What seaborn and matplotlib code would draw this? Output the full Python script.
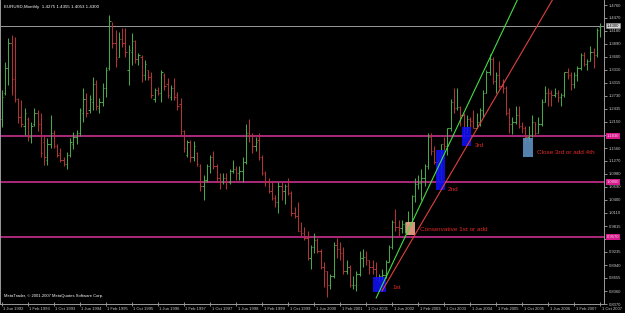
import numpy as np
import pandas as pd
import matplotlib
matplotlib.use("Agg")
import matplotlib.pyplot as plt
import matplotlib.transforms as mtrans
import seaborn as sns
from matplotlib.patches import Rectangle

# ---------------- data (EURUSD monthly, from Jun 1992) ----------------
first_month = "1992-06"
opens = [1.22,1.28,1.335,1.39,1.31,1.265,1.225,1.205,1.22,1.18,
         1.21,1.235,1.21,1.17,1.13,1.165,1.19,1.16,1.145,1.13,
         1.12,1.14,1.165,1.18,1.19,1.235,1.265,1.24,1.26,1.30,
         1.245,1.26,1.29,1.335,1.43,1.39,1.36,1.40,1.39,1.33,
         1.37,1.395,1.355,1.36,1.32,1.33,1.315,1.265,1.285,1.28,
         1.32,1.30,1.27,1.29,1.275,1.255,1.195,1.14,1.17,1.135,
         1.145,1.115,1.07,1.085,1.115,1.135,1.115,1.09,1.08,1.09,
         1.08,1.105,1.11,1.10,1.105,1.125,1.19,1.185,1.16,1.175,
         1.135,1.10,1.08,1.06,1.045,1.035,1.07,1.06,1.07,1.055,
         1.01,1.005,0.97,0.965,0.955,0.91,0.935,0.95,0.925,0.89,
         0.88,0.85,0.87,0.94,0.93,0.92,0.88,0.89,0.85,0.85,
         0.875,0.91,0.912,0.905,0.89,0.885,0.86,0.87,0.872,0.90,
         0.935,0.99,0.98,0.978,0.985,0.988,0.99,1.048,1.075,1.078,
         1.09,1.115,1.18,1.15,1.125,1.095,1.165,1.16,1.20,1.26,
         1.245,1.248,1.23,1.20,1.22,1.217,1.20,1.215,1.24,1.28,
         1.325,1.355,1.305,1.32,1.295,1.29,1.235,1.21,1.215,1.23,
         1.205,1.20,1.18,1.185,1.215,1.19,1.21,1.26,1.28,1.278,
         1.275,1.28,1.27,1.275,1.325,1.32,1.30,1.32,1.335,1.365,
         1.345,1.35,1.37,1.365,1.4275]
highs = [1.286,1.349,1.402,1.409,1.405,1.269,1.264,1.246,1.226,1.215,
         1.246,1.242,1.235,1.182,1.179,1.231,1.197,1.164,1.157,1.137,
         1.148,1.179,1.191,1.197,1.246,1.291,1.280,1.275,1.315,1.309,
         1.269,1.302,1.338,1.454,1.438,1.420,1.416,1.425,1.425,1.387,
         1.414,1.398,1.369,1.364,1.353,1.331,1.327,1.291,1.293,1.331,
         1.324,1.313,1.298,1.313,1.282,1.269,1.197,1.175,1.175,1.171,
         1.148,1.12,1.095,1.12,1.14,1.15,1.12,1.10,1.10,1.10,
         1.11,1.13,1.115,1.115,1.135,1.21,1.22,1.19,1.18,1.19,
         1.14,1.105,1.09,1.08,1.05,1.08,1.08,1.075,1.09,1.06,
         1.025,1.035,0.99,0.98,0.97,0.94,0.965,0.955,0.93,0.90,
         0.88,0.875,0.945,0.955,0.945,0.935,0.905,0.895,0.87,0.88,
         0.925,0.93,0.925,0.905,0.905,0.90,0.875,0.885,0.905,0.94,
         0.995,1.02,0.995,0.995,0.99,1.015,1.05,1.09,1.095,1.11,
         1.12,1.19,1.19,1.16,1.13,1.165,1.18,1.20,1.265,1.29,
         1.29,1.25,1.235,1.23,1.225,1.24,1.235,1.245,1.285,1.33,
         1.367,1.36,1.325,1.35,1.31,1.295,1.245,1.225,1.25,1.25,
         1.215,1.205,1.205,1.23,1.215,1.225,1.265,1.295,1.29,1.285,
         1.29,1.285,1.28,1.325,1.335,1.325,1.325,1.34,1.368,1.37,
         1.355,1.385,1.38,1.425,1.4355]
lows = [1.204,1.275,1.298,1.275,1.260,1.213,1.202,1.186,1.171,1.168,
        1.206,1.193,1.137,1.119,1.119,1.157,1.157,1.135,1.124,1.115,
        1.108,1.135,1.153,1.164,1.182,1.215,1.226,1.235,1.242,1.242,
        1.235,1.249,1.271,1.331,1.380,1.338,1.360,1.382,1.360,1.298,
        1.342,1.347,1.342,1.304,1.309,1.309,1.269,1.260,1.275,1.260,
        1.286,1.269,1.264,1.264,1.242,1.186,1.146,1.135,1.124,1.126,
        1.115,1.06,1.04,1.08,1.10,1.11,1.08,1.065,1.075,1.065,
        1.075,1.10,1.085,1.085,1.08,1.12,1.17,1.145,1.15,1.13,
        1.095,1.07,1.055,1.04,1.025,1.01,1.04,1.03,1.05,1.005,
        1.00,0.97,0.96,0.95,0.905,0.885,0.92,0.92,0.885,0.845,
        0.823,0.84,0.865,0.91,0.905,0.875,0.875,0.845,0.84,0.835,
        0.87,0.89,0.895,0.875,0.875,0.86,0.857,0.86,0.865,0.90,
        0.93,0.97,0.96,0.965,0.965,0.985,0.99,1.035,1.065,1.04,
        1.07,1.11,1.14,1.12,1.08,1.085,1.15,1.14,1.195,1.235,
        1.24,1.205,1.18,1.19,1.195,1.20,1.20,1.205,1.225,1.28,
        1.32,1.30,1.28,1.29,1.28,1.23,1.19,1.187,1.21,1.20,
        1.19,1.164,1.17,1.18,1.185,1.19,1.205,1.26,1.25,1.25,
        1.27,1.26,1.25,1.27,1.31,1.285,1.29,1.305,1.33,1.34,
        1.33,1.35,1.335,1.36,1.4053]
closes = [1.27,1.335,1.39,1.31,1.265,1.225,1.21,1.235,1.18,1.205,
          1.235,1.21,1.145,1.135,1.165,1.19,1.16,1.14,1.13,1.12,
          1.14,1.17,1.18,1.19,1.24,1.265,1.235,1.265,1.30,1.25,
          1.26,1.29,1.33,1.44,1.39,1.355,1.40,1.39,1.37,1.375,
          1.395,1.355,1.365,1.32,1.345,1.315,1.275,1.285,1.28,1.325,
          1.295,1.275,1.29,1.27,1.25,1.195,1.155,1.17,1.135,1.16,
          1.12,1.07,1.085,1.115,1.135,1.115,1.09,1.08,1.09,1.08,
          1.105,1.11,1.10,1.105,1.125,1.19,1.185,1.16,1.17,1.135,
          1.10,1.08,1.06,1.045,1.035,1.07,1.06,1.07,1.055,1.01,
          1.005,0.97,0.965,0.955,0.91,0.935,0.95,0.925,0.89,0.88,
          0.85,0.87,0.94,0.93,0.92,0.88,0.89,0.85,0.85,0.875,
          0.91,0.912,0.905,0.89,0.885,0.86,0.87,0.872,0.90,0.935,
          0.99,0.98,0.978,0.985,0.988,0.99,1.048,1.075,1.078,1.09,
          1.115,1.18,1.15,1.125,1.095,1.165,1.16,1.20,1.26,1.245,
          1.248,1.23,1.20,1.22,1.217,1.20,1.215,1.24,1.28,1.325,
          1.355,1.305,1.32,1.295,1.29,1.235,1.21,1.215,1.23,1.205,
          1.20,1.18,1.185,1.215,1.19,1.21,1.26,1.28,1.278,1.275,
          1.28,1.27,1.275,1.325,1.32,1.30,1.32,1.335,1.365,1.345,
          1.35,1.37,1.365,1.42,1.4300]

x_tick_labels = ["1 Jun 1992","1 Feb 1993","1 Oct 1993","1 Jun 1994","1 Feb 1995",
                 "1 Oct 1995","1 Jun 1996","1 Feb 1997","1 Oct 1997","1 Jun 1998",
                 "1 Feb 1999","1 Oct 1999","1 Jun 2000","1 Feb 2001","1 Oct 2001",
                 "1 Jun 2002","1 Feb 2003","1 Oct 2003","1 Jun 2004","1 Feb 2005",
                 "1 Oct 2005","1 Jun 2006","1 Feb 2007","1 Oct 2007"]
y_tick_labels = ["1.4760","1.4470","1.4180","1.3890","1.3600","1.3310","1.3015","1.2730",
                 "1.2435","1.2150","1.1860","1.1560","1.1270","1.0980","1.0690","1.0400",
                 "1.0110","0.9815","0.9525","0.9235","0.8940","0.8655","0.8360","0.8070"]

support_levels = [1.1830, 1.0800, 0.9570]
support_labels = ["1.1830", "1.0800", "0.9570"]
bid_price = 1.4300
header = "EURUSD,Monthly  1.4275 1.4355 1.4053 1.4300"
copyright_text = "MetaTrader, \u00a9 2001-2007 MetaQuotes Software Corp."

# trend lines: two anchor points (month index, price)
green_line = [(115.1, 0.8203), (132.3, 1.0844)]
red_line = [(116.9, 0.8359), (136.9, 1.0844)]

# entry boxes
box_names = ["1st", "Conservative 1st or add", "2nd", "3rd", "Close 3rd or add 4th"]
box_m0 = [114.2, 124.3, 133.5, 141.5, 160.3]
box_m1 = [118.2, 127.1, 136.3, 144.3, 163.4]
box_p0 = [0.8337, 0.9613, 1.0620, 1.1604, 1.1358]
box_p1 = [0.8673, 0.9904, 1.1515, 1.2030, 1.1783]
box_kind = ["blue", "peach", "blue", "blue", "steel"]
label_m = [120.0, 128.6, 137.2, 145.5, 164.6]
label_p = [0.845, 0.9747, 1.0642, 1.1627, 1.147]

# ---------------- build ----------------
n = len(opens)
df = pd.DataFrame({"idx": np.arange(n), "open": opens, "high": highs,
                   "low": lows, "close": closes})
df["up"] = df["close"] >= df["open"]

sns.set_style("dark", rc={"axes.facecolor": "black", "figure.facecolor": "black"})
plt.rcParams["font.family"] = ["Liberation Sans", "DejaVu Sans"]

fig = plt.figure(figsize=(6.25, 3.13), dpi=100)
H = 313.0
ax = fig.add_axes([0.0, 9 / H, 604 / 625, 1 - 9 / H])
ax.set_facecolor("black")

UP = "#4aa64a"
DN = "#b03434"
cols = np.where(df["up"], UP, DN)
lw = 0.75
ax.vlines(df["idx"], df["low"], df["high"], colors=cols, linewidth=lw)
ax.hlines(df["open"], df["idx"] - 0.4, df["idx"], colors=cols, linewidth=lw)
ax.hlines(df["close"], df["idx"], df["idx"] + 0.4, colors=cols, linewidth=lw)

PINK = "#c8308e"
for lev in support_levels:
    ax.axhline(lev, color=PINK, linewidth=1.2, zorder=1)
ax.axhline(bid_price, color="#9a9a9a", linewidth=0.7, zorder=1)

def ray(pts):
    (x0, y0), (x1, y1) = pts
    s = (y1 - y0) / (x1 - x0)
    return pd.DataFrame({"x": [x0, x0 + 80], "y": [y0, y0 + s * 80]})

sns.lineplot(data=ray(green_line), x="x", y="y", color="#44dd44", linewidth=0.8,
             ax=ax, zorder=5)
sns.lineplot(data=ray(red_line), x="x", y="y", color="#e04040", linewidth=0.8,
             ax=ax, zorder=5)

box_face = {"blue": "#1010f0", "peach": "#f0a48a", "steel": "#5d8fc0"}
for name, m0, m1, p0, p1, k, lm, lp in zip(box_names, box_m0, box_m1, box_p0, box_p1,
                                            box_kind, label_m, label_p):
    ax.add_patch(Rectangle((m0, p0), m1 - m0, p1 - p0, facecolor=box_face[k],
                           edgecolor="none", alpha=0.9, zorder=3))
    ax.text(lm, lp, name, color="#e02828", fontsize=4.6, va="center", ha="left",
            zorder=6)

ax.set_xlim(-0.6, 185.2)
ax.set_ylim(0.807, 1.4872)

for s in ["left", "right", "bottom"]:
    ax.spines[s].set_visible(True)
    ax.spines[s].set_color("#9a9a9a")
    ax.spines[s].set_linewidth(0.7)
ax.spines["top"].set_visible(False)

ytick_vals = [float(v) for v in y_tick_labels]
# labels that sit under a level marker box are covered by that box
shown = ["" if min(abs(v - lev) for lev in support_levels) < 0.004 else t
         for v, t in zip(ytick_vals, y_tick_labels)]
ax.yaxis.tick_right()
ax.set_yticks(ytick_vals)
ax.set_yticklabels(shown)
ax.tick_params(axis="y", colors="#c8c8c8", labelsize=3.0, length=2, width=0.5, pad=1.5,
               right=True, left=False)
xt = np.arange(0, n, 8)[:len(x_tick_labels)]
ax.set_xticks(xt)
ax.set_xticklabels(x_tick_labels, ha="left")
ax.tick_params(axis="x", colors="#c8c8c8", labelsize=3.0, length=2.5, width=0.5,
               pad=1.0, bottom=True, direction="inout")
offset = mtrans.ScaledTranslation(1.5 / 100, 0, fig.dpi_scale_trans)
for lbl in ax.get_xticklabels():
    lbl.set_transform(lbl.get_transform() + offset)
ax.set_xlabel("")
ax.set_ylabel("")
ax.grid(False)

for lev, lab in zip(support_levels, support_labels):
    ax.annotate(lab, xy=(1.0, lev), xycoords=("axes fraction", "data"),
                xytext=(2, 0), textcoords="offset points", fontsize=3.0,
                color="#ffd0ec", va="center", ha="left",
                bbox=dict(boxstyle="square,pad=0.15", facecolor="#d41c8c",
                          edgecolor="none"))
ax.annotate(f"{bid_price:.4f}", xy=(1.0, bid_price), xycoords=("axes fraction", "data"),
            xytext=(2, 0), textcoords="offset points", fontsize=3.0,
            color="black", va="center", ha="left",
            bbox=dict(boxstyle="square,pad=0.15", facecolor="#d8d8d8",
                      edgecolor="#9a9a9a", linewidth=0.4))

ax.text(0.006, 0.985, header, transform=ax.transAxes, color="white", fontsize=3.2,
        va="top", ha="left")
ax.text(0.006, 0.02, copyright_text, transform=ax.transAxes, color="white",
        fontsize=3.0, va="bottom", ha="left")

fig.savefig("out.png", dpi=100, facecolor="black")
